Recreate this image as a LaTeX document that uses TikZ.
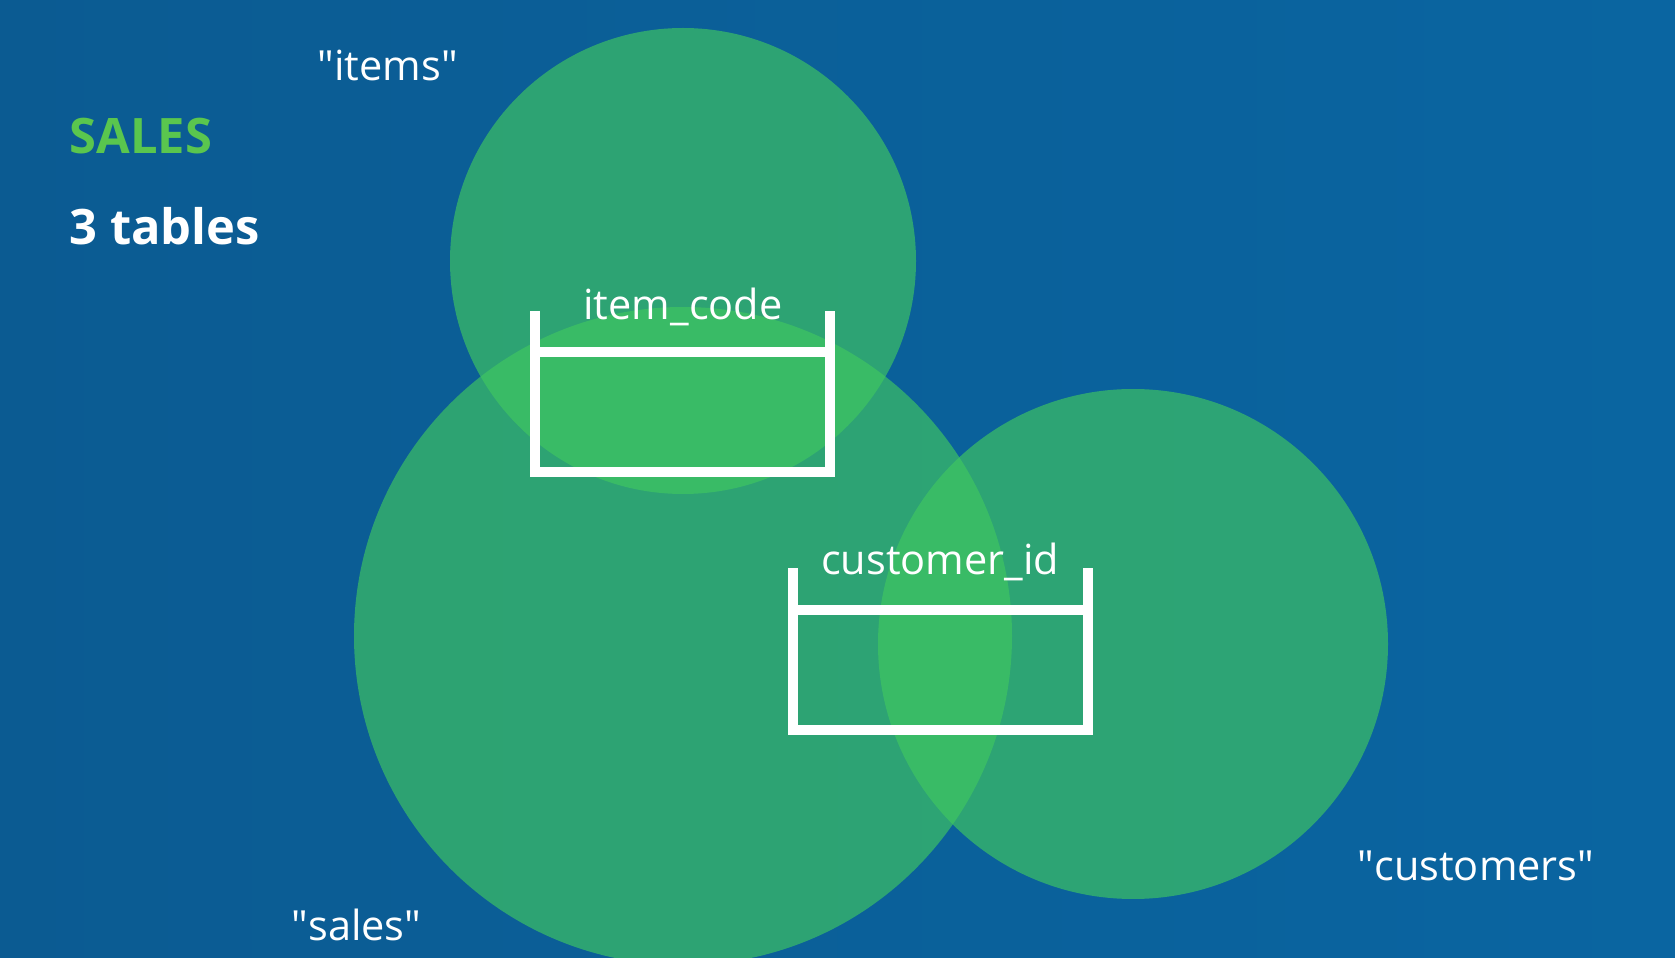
\documentclass[tikz,border=0pt]{standalone}
\usepackage{fontspec}
\setmainfont{Open Sans}
\usetikzlibrary{positioning}
\definecolor{bgdark}{RGB}{11,91,146}
\definecolor{bglight}{RGB}{10,101,161}
\definecolor{setgreen}{RGB}{64,200,96}
\definecolor{titlegreen}{RGB}{90,198,78}
\tikzset{%
	set circle/.style={
		fill=setgreen,
		fill opacity=0.65
	},
	table frame/.style={
		draw=white,
		line width=1mm,
		line join=miter
	},
	set label/.style={
		text=white,
		inner sep=0pt,
		font=\fontsize{11.8}{14}\selectfont
	},
	title label/.style={
		inner sep=0pt,
		anchor=base west,
		font=\bfseries\fontsize{13.9}{16}\selectfont
	},
}

\begin{document}
\begin{tikzpicture}[x=0.1mm, y=-0.1mm]
			% Draw the background
			\useasboundingbox (0,0) rectangle (1675,958);
			\clip (0,0) rectangle (1675,958);
			\shade[left color=bgdark, right color=bglight] (0,0) rectangle (1675,958);
			
			% Draw the three sets
			\fill[set circle] (683,261) circle[radius=23.3mm];
			\fill[set circle] (683,636) circle[radius=32.9mm];
			\fill[set circle] (1133,644) circle[radius=25.5mm];
			
			% Draw the first table
			\draw[table frame] (535,311) -- (535,472) -- (830,472) -- (830,311);
			\draw[table frame] (535,352) -- (830,352);
			\node[set label, anchor=base] (itemcode) at (683,320) {item\_code};
			
			% Draw the second table
			\draw[table frame] (793,568) -- (793,730) -- (1088,730) -- (1088,568);
			\draw[table frame] (793,610) -- (1088,610);
			\node[set label, anchor=base] (customerid) at (940,575) {customer\_id};
			
			% Set names
			\node[set label, anchor=base west] (items) at (317,81) {\textquotedbl items\textquotedbl};
			\node[set label, anchor=base west] (sales) at (291,940) {\textquotedbl sales\textquotedbl};
			\node[set label, anchor=base west] (customers) at (1357,880) {\textquotedbl customers\textquotedbl};
			
			% Title
			\node[title label, text=titlegreen] (title) at (69,154) {SALES};
			\node[title label, text=white] (count) at (69,245) {3 tables};
			
		\end{tikzpicture}
\end{document}
